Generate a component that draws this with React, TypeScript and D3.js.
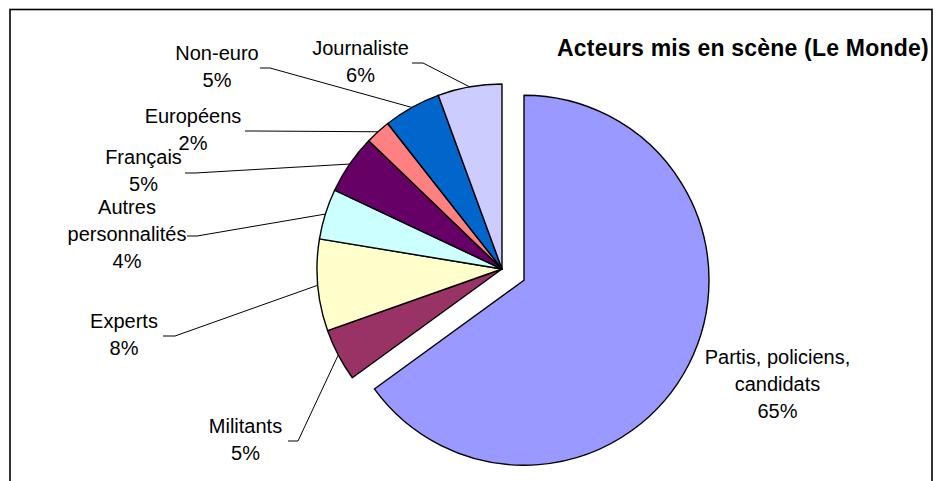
import React from "react";
import * as d3 from "d3";

const categories = [
  "Partis, policiens, candidats",
  "Militants",
  "Experts",
  "Autres personnalités",
  "Français",
  "Européens",
  "Non-euro",
  "Journaliste",
];
const labelLines = [
  ["Partis, policiens,", "candidats"],
  ["Militants"],
  ["Experts"],
  ["Autres", "personnalités"],
  ["Français"],
  ["Européens"],
  ["Non-euro"],
  ["Journaliste"],
];
const values = [65.0, 4.6, 8.0, 4.4, 5.2, 2.2, 5.0, 5.6];
const colors = ["#9999FF", "#993366", "#FFFFCC", "#CCFFFF", "#660066", "#FF8080", "#0066CC", "#CCCCFF"];
const explode = [24.7, 0, 0, 0, 0, 0, 0, 0];
const title = "Acteurs mis en scène (Le Monde)";

// layout: label anchor (center x, first baseline y) and leader elbow points
const labelLayout = [
  { x: 777.5, y: 364, elbow: null },
  { x: 245.5, y: 433, elbow: [[288, 441], [298, 441]] },
  { x: 124, y: 328, elbow: [[163, 336], [175, 336]] },
  { x: 127, y: 214, elbow: [[187, 236], [197, 236]] },
  { x: 143.5, y: 164, elbow: [[185, 173], [195, 173]] },
  { x: 193, y: 123, elbow: [[245, 131], [255, 131]] },
  { x: 217, y: 60, elbow: [[260, 68], [270, 68]] },
  { x: 360.5, y: 55, elbow: [[412, 63], [423, 63]] },
];

const W = 937;
const H = 481;
const CX = 502;
const CY = 269;
const R = 185;
const LINE_H = 27;
const FONT = "'Liberation Sans', Arial, sans-serif";

export default function App() {
  const data = categories.map((c, i) => ({ c, v: values[i], i }));
  const pie = d3.pie<any>().sort(null).value((d) => d.v);
  const arcs = pie(data);
  const arc = d3.arc<any>().innerRadius(0).outerRadius(R);

  return (
    <div style={{ position: "fixed", left: 0, top: 0, background: "#fff" }}>
      <svg width={W} height={H} style={{ display: "block" }}>
        <rect x={0} y={0} width={W} height={H} fill="#fff" />
        <rect x={10} y={9.5} width={922} height={520} fill="none" stroke="#000" strokeWidth={1.6} />
        <g>
          {arcs.map((a, i) => {
            const mid = (a.startAngle + a.endAngle) / 2;
            const dx = Math.sin(mid) * explode[i];
            const dy = -Math.cos(mid) * explode[i];
            return (
              <path
                key={i}
                d={arc(a) as string}
                transform={`translate(${CX + dx},${CY + dy})`}
                fill={colors[i]}
                stroke="#000"
                strokeWidth={1.4}
                strokeLinejoin="round"
              />
            );
          })}
        </g>
        <g>
          {arcs.map((a, i) => {
            const L = labelLayout[i];
            if (!L.elbow) return null;
            const mid = (a.startAngle + a.endAngle) / 2;
            const ex = CX + Math.sin(mid) * R;
            const ey = CY - Math.cos(mid) * R;
            const pts = [...L.elbow, [ex, ey]];
            return (
              <polyline
                key={i}
                points={pts.map((p) => p.join(",")).join(" ")}
                fill="none"
                stroke="#000"
                strokeWidth={1}
              />
            );
          })}
        </g>
        <g fontFamily={FONT} fontSize={20} fill="#000" textAnchor="middle">
          {arcs.map((a, i) => {
            const L = labelLayout[i];
            const lines = [...labelLines[i], `${Math.round(values[i])}%`];
            return (
              <text key={i} x={L.x} y={L.y}>
                {lines.map((t, j) => (
                  <tspan key={j} x={L.x} y={L.y + j * LINE_H}>
                    {t}
                  </tspan>
                ))}
              </text>
            );
          })}
        </g>
        <text x={557} y={56} fontFamily={FONT} fontSize={23} fontWeight="bold" fill="#000" letterSpacing={0.2}>
          {title}
        </text>
      </svg>
    </div>
  );
}
